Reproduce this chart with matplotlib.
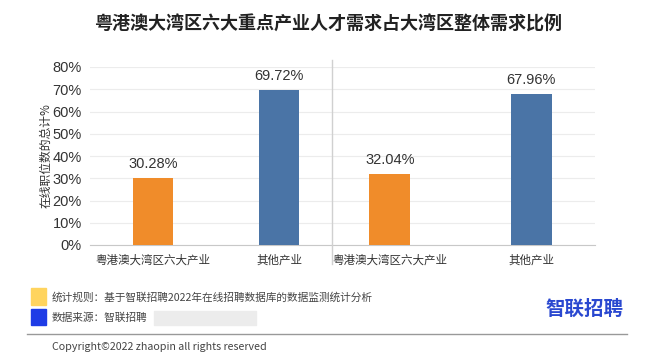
import matplotlib
matplotlib.use("Agg")
import matplotlib.pyplot as plt
from matplotlib.patches import Rectangle
from matplotlib.lines import Line2D

plt.rcParams['font.family'] = ['Noto Sans CJK SC', 'DejaVu Sans']
num_font = ['Liberation Sans', 'Noto Sans CJK SC']

# data
categories = ['粤港澳大湾区六大产业', '其他产业']
left_values = [30.28, 69.72]
right_values = [32.04, 67.96]
bar_colors = ['#F08C2A', '#4A74A6']
yticks = [0, 10, 20, 30, 40, 50, 60, 70, 80]

W, H = 650, 353
fig = plt.figure(figsize=(W / 100, H / 100), dpi=100)

def fx(px):
    return px / W

def fy(py):
    return 1 - py / H

bottom, top = fy(245), fy(67)
ax1 = fig.add_axes([fx(90), bottom, fx(332) - fx(90), top - bottom])
ax2 = fig.add_axes([fx(332), bottom, fx(595) - fx(332), top - bottom], sharey=ax1)

def draw(ax, values, xlim, width):
    x = list(range(len(categories)))
    ax.bar(x, values, width=width, color=bar_colors, zorder=3)
    for xi, v in zip(x, values):
        ax.text(xi, v + 3, f'{v:.2f}%', ha='center', va='bottom',
                fontsize=10.5, color='#333333', family=num_font)
    ax.set_xlim(*xlim)
    ax.set_ylim(0, 80)
    ax.set_yticks(yticks)
    ax.grid(axis='y', color='#ececec', linewidth=0.8, zorder=0)
    for s in ['top', 'right', 'left']:
        ax.spines[s].set_visible(False)
    ax.spines['bottom'].set_color('#c8c8c8')
    ax.set_xticks(x)
    ax.set_xticklabels(categories, fontsize=8.3, color='#333333')
    ax.tick_params(axis='x', length=0, pad=6)
    ax.tick_params(axis='y', length=0)

draw(ax1, left_values, (-0.5, 1.42), 0.32)
draw(ax2, right_values, (-0.41, 1.45), 0.29)

ax1.set_yticklabels([f'{t}%' for t in yticks], fontsize=10.5, color='#333333', family=num_font)
ax1.tick_params(axis='y', pad=6)
ax1.set_ylabel('在线职位数的总计%', fontsize=8.5, color='#333333', labelpad=0)
ax2.tick_params(axis='y', labelleft=False)

# separator between panels
fig.add_artist(Line2D([fx(332), fx(332)], [fy(60), fy(264)], color='#d0d0d0', linewidth=1))

fig.text(fx(328), fy(24), '粤港澳大湾区六大重点产业人才需求占大湾区整体需求比例',
         ha='center', va='center', fontsize=13, fontweight='bold', color='#222222')

# footer
fig.add_artist(Rectangle((fx(31), fy(305)), fx(15), fy(288) - fy(305), color='#FFD45E', transform=fig.transFigure))
fig.add_artist(Rectangle((fx(31), fy(325)), fx(15), fy(309) - fy(325), color='#1E3CE6', transform=fig.transFigure))
fig.add_artist(Rectangle((fx(154), fy(325)), fx(102), fy(311) - fy(325), color='#ececec', transform=fig.transFigure))
fig.text(fx(52), fy(297), '统计规则：基于智联招聘2022年在线招聘数据库的数据监测统计分析',
         ha='left', va='center', fontsize=7.7, color='#444444')
fig.text(fx(52), fy(318), '数据来源：智联招聘', ha='left', va='center', fontsize=7.7, color='#444444')
fig.text(fx(623), fy(309), '智联招聘', ha='right', va='center', fontsize=14,
         fontweight='bold', color='#2A48D0')
fig.add_artist(Line2D([fx(27), fx(627)], [fy(334), fy(334)], color='#999999', linewidth=1))
fig.text(fx(52), fy(347), 'Copyright©2022 zhaopin all rights reserved',
         ha='left', va='center', fontsize=7.7, color='#444444')

fig.savefig('out.png', dpi=100)
